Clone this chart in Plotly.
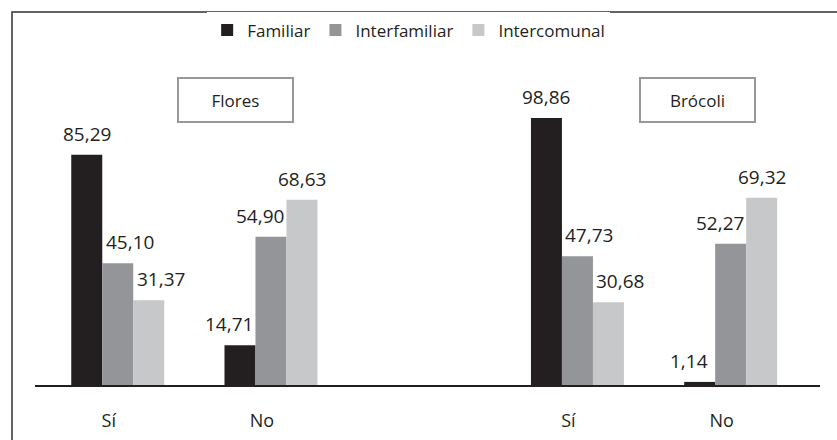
import plotly.graph_objects as go

# ---- data ----
group_labels = ["Sí", "No", "Sí", "No"]
group_pos = [0, 1, 3, 4]
series_names = ["Familiar", "Interfamiliar", "Intercomunal"]
familiar = [85.29, 14.71, 98.86, 1.14]
interfamiliar = [45.10, 54.90, 47.73, 52.27]
intercomunal = [31.37, 68.63, 30.68, 69.32]
panel_titles = ["Flores", "Brócoli"]

series_values = [familiar, interfamiliar, intercomunal]
colors = ["#231f20", "#939598", "#c7c8ca"]
FONT = "Open Sans"
TXT = "#231f20"

W, H = 837, 440
ml, mr, mt, mb = 35, 17, 88, 55
bar_w = 0.2023

fig = go.Figure()
for i, (name, vals) in enumerate(zip(series_names, series_values)):
    fig.add_trace(go.Bar(
        x=group_pos, y=vals, name=name,
        width=bar_w, offset=(-1.5 + i) * bar_w,
        marker=dict(color=colors[i], line=dict(width=0)),
        hoverinfo="skip",
    ))

def fmt(v):
    return f"{v:.2f}".replace(".", ",")

# value labels
annotations = []
for i, vals in enumerate(series_values):
    for g, (pos, v) in enumerate(zip(group_pos, vals)):
        is_si = group_labels[g] == "Sí"
        if is_si:
            xs = 12 if i > 0 else 0
        else:
            xs = -11 if i < 2 else 0
        annotations.append(dict(
            x=pos + (-1 + i) * bar_w, y=v, xref="x", yref="y",
            text=fmt(v), showarrow=False, yanchor="bottom",
            xshift=xs, yshift=6,
            font=dict(family=FONT, size=19, color=TXT),
        ))

# panel title boxes
for t, cx in zip(panel_titles, [0.768, 3.783]):
    annotations.append(dict(
        x=cx, y=0.96, xref="x", yref="paper", text=t, showarrow=False,
        xanchor="center", yanchor="middle",
        width=113, height=42, borderwidth=2, bordercolor="#97989b",
        bgcolor="white", borderpad=0,
        font=dict(family=FONT, size=17, color=TXT),
    ))

fig.update_layout(
    width=W, height=H,
    margin=dict(l=ml, r=mr, t=mt, b=mb, autoexpand=False),
    paper_bgcolor="white", plot_bgcolor="white",
    barmode="overlay",
    showlegend=True,
    legend=dict(
        orientation="h", x=0.476, xanchor="center", y=1.194, yanchor="middle",
        font=dict(family=FONT, size=17, color=TXT),
        itemwidth=30, traceorder="normal",
    ),
    xaxis=dict(
        range=[-0.54, 4.583], tickmode="array", tickvals=group_pos,
        ticktext=group_labels, showgrid=False, zeroline=False,
        showline=True, linecolor="#231f20", linewidth=2, ticks="",
        tickfont=dict(family=FONT, size=18, color=TXT),
        ticklabelshift=-9, ticklabelstandoff=18, automargin=False,
    ),
    yaxis=dict(range=[0, 110], visible=False, showgrid=False, zeroline=False,
               automargin=False),
    annotations=annotations,
    shapes=[dict(
        type="rect", xref="paper", yref="paper",
        x0=(12 - ml) / (W - ml - mr), x1=1.2,
        y0=-0.5, y1=(H - mb - 12) / (H - mt - mb),
        line=dict(color="#333333", width=1.5), fillcolor="rgba(0,0,0,0)",
        layer="below",
    )],
)

fig.write_html("out.html")
